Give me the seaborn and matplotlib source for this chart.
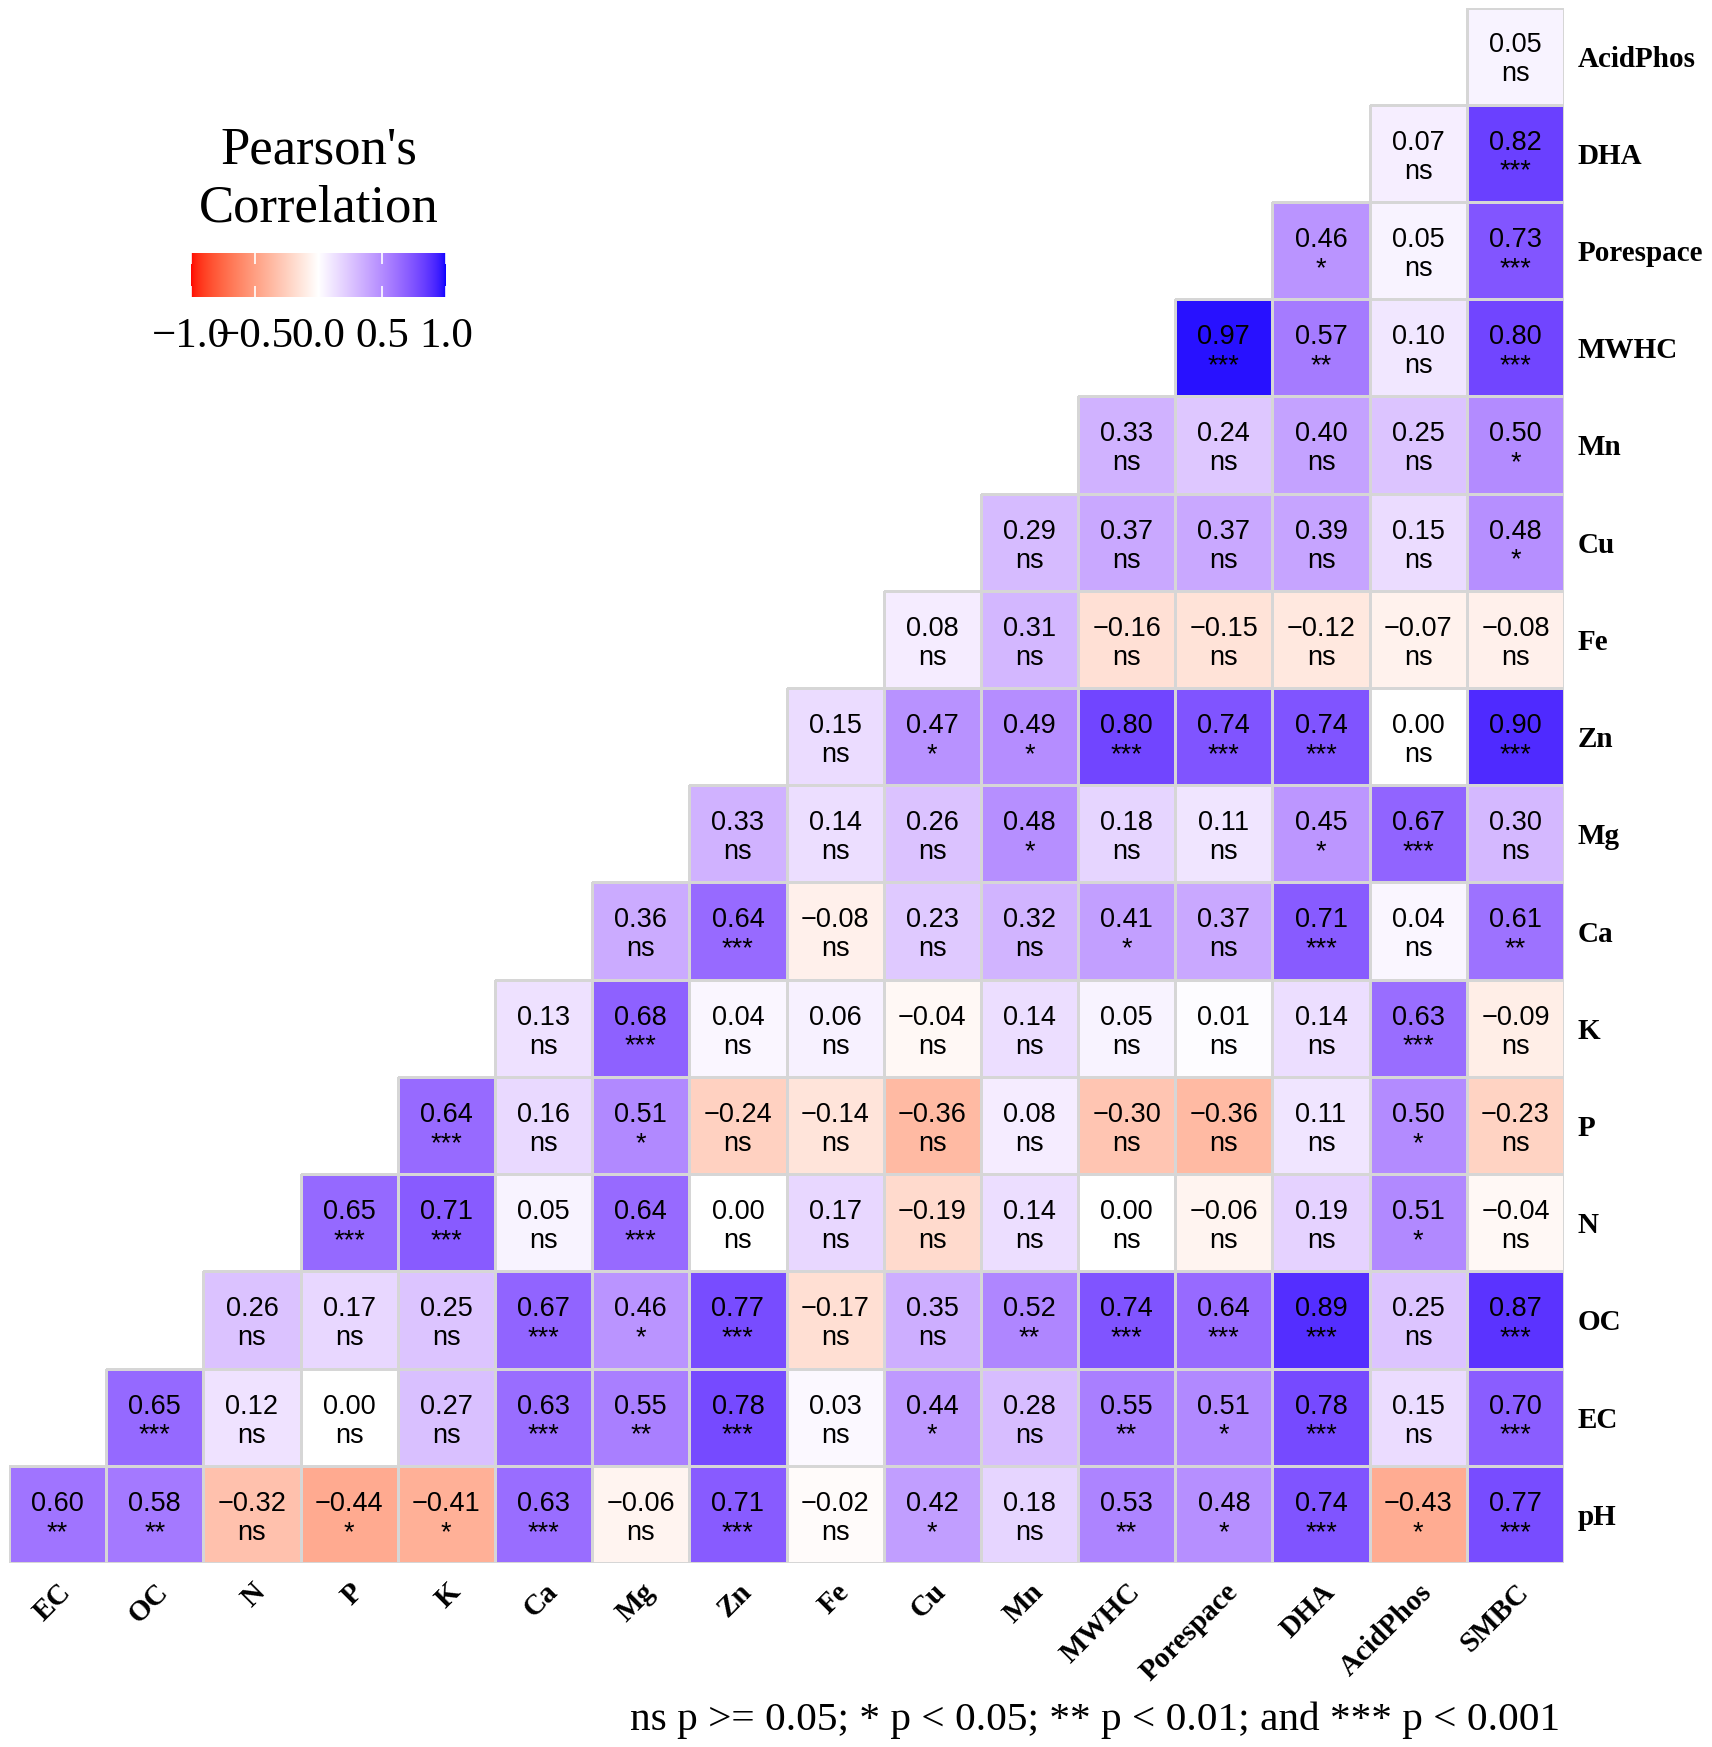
import numpy as np
import pandas as pd
import matplotlib
matplotlib.use("Agg")
import matplotlib.pyplot as plt
from matplotlib.colors import ListedColormap, Normalize, to_rgba
from matplotlib.cm import ScalarMappable
import seaborn as sns

# ---------------- data ----------------
cols = ["EC", "OC", "N", "P", "K", "Ca", "Mg", "Zn", "Fe", "Cu", "Mn",
        "MWHC", "Porespace", "DHA", "AcidPhos", "SMBC"]
rows = ["AcidPhos", "DHA", "Porespace", "MWHC", "Mn", "Cu", "Fe", "Zn",
        "Mg", "Ca", "K", "P", "N", "OC", "EC", "pH"]

# each row lists its cells from left to right (the cells end at SMBC)
r_AcidPhos = [0.05]
s_AcidPhos = ["ns"]
r_DHA = [0.07, 0.82]
s_DHA = ["ns", "***"]
r_Porespace = [0.46, 0.05, 0.73]
s_Porespace = ["*", "ns", "***"]
r_MWHC = [0.97, 0.57, 0.10, 0.80]
s_MWHC = ["***", "**", "ns", "***"]
r_Mn = [0.33, 0.24, 0.40, 0.25, 0.50]
s_Mn = ["ns", "ns", "ns", "ns", "*"]
r_Cu = [0.29, 0.37, 0.37, 0.39, 0.15, 0.48]
s_Cu = ["ns", "ns", "ns", "ns", "ns", "*"]
r_Fe = [0.08, 0.31, -0.16, -0.15, -0.12, -0.07, -0.08]
s_Fe = ["ns", "ns", "ns", "ns", "ns", "ns", "ns"]
r_Zn = [0.15, 0.47, 0.49, 0.80, 0.74, 0.74, 0.00, 0.90]
s_Zn = ["ns", "*", "*", "***", "***", "***", "ns", "***"]
r_Mg = [0.33, 0.14, 0.26, 0.48, 0.18, 0.11, 0.45, 0.67, 0.30]
s_Mg = ["ns", "ns", "ns", "*", "ns", "ns", "*", "***", "ns"]
r_Ca = [0.36, 0.64, -0.08, 0.23, 0.32, 0.41, 0.37, 0.71, 0.04, 0.61]
s_Ca = ["ns", "***", "ns", "ns", "ns", "*", "ns", "***", "ns", "**"]
r_K = [0.13, 0.68, 0.04, 0.06, -0.04, 0.14, 0.05, 0.01, 0.14, 0.63, -0.09]
s_K = ["ns", "***", "ns", "ns", "ns", "ns", "ns", "ns", "ns", "***", "ns"]
r_P = [0.64, 0.16, 0.51, -0.24, -0.14, -0.36, 0.08, -0.30, -0.36, 0.11, 0.50, -0.23]
s_P = ["***", "ns", "*", "ns", "ns", "ns", "ns", "ns", "ns", "ns", "*", "ns"]
r_N = [0.65, 0.71, 0.05, 0.64, 0.00, 0.17, -0.19, 0.14, 0.00, -0.06, 0.19, 0.51, -0.04]
s_N = ["***", "***", "ns", "***", "ns", "ns", "ns", "ns", "ns", "ns", "ns", "*", "ns"]
r_OC = [0.26, 0.17, 0.25, 0.67, 0.46, 0.77, -0.17, 0.35, 0.52, 0.74, 0.64, 0.89, 0.25, 0.87]
s_OC = ["ns", "ns", "ns", "***", "*", "***", "ns", "ns", "**", "***", "***", "***", "ns", "***"]
r_EC = [0.65, 0.12, 0.00, 0.27, 0.63, 0.55, 0.78, 0.03, 0.44, 0.28, 0.55, 0.51, 0.78, 0.15, 0.70]
s_EC = ["***", "ns", "ns", "ns", "***", "**", "***", "ns", "*", "ns", "**", "*", "***", "ns", "***"]
r_pH = [0.60, 0.58, -0.32, -0.44, -0.41, 0.63, -0.06, 0.71, -0.02, 0.42, 0.18, 0.53, 0.48, 0.74, -0.43, 0.77]
s_pH = ["**", "**", "ns", "*", "*", "***", "ns", "***", "ns", "*", "ns", "**", "*", "***", "*", "***"]

row_r = [r_AcidPhos, r_DHA, r_Porespace, r_MWHC, r_Mn, r_Cu, r_Fe, r_Zn,
         r_Mg, r_Ca, r_K, r_P, r_N, r_OC, r_EC, r_pH]
row_s = [s_AcidPhos, s_DHA, s_Porespace, s_MWHC, s_Mn, s_Cu, s_Fe, s_Zn,
         s_Mg, s_Ca, s_K, s_P, s_N, s_OC, s_EC, s_pH]

caption = "ns p >= 0.05; * p < 0.05; ** p < 0.01; and *** p < 0.001"
cbar_ticks = [-1.0, -0.5, 0.0, 0.5, 1.0]

# ---------------- matrix ----------------
n = len(cols)
mat = np.full((len(rows), n), np.nan)
ann = np.full((len(rows), n), "", dtype=object)
for i, (rv, sv) in enumerate(zip(row_r, row_s)):
    start = n - len(rv)
    for k, (v, s) in enumerate(zip(rv, sv)):
        mat[i, start + k] = v
        ann[i, start + k] = f"{v:.2f}".replace("-", "\u2212") + "\n" + s
df = pd.DataFrame(mat, index=rows, columns=cols)

# ---------------- Lab colour gradient (red - white - blue) ----------------
def srgb_to_lab(c):
    c = np.asarray(c, float)
    lin = np.where(c <= 0.04045, c / 12.92, ((c + 0.055) / 1.055) ** 2.4)
    M = np.array([[0.4124, 0.3576, 0.1805],
                  [0.2126, 0.7152, 0.0722],
                  [0.0193, 0.1192, 0.9505]])
    xyz = M @ lin / np.array([0.95047, 1.0, 1.08883])
    f = np.where(xyz > (6 / 29) ** 3, np.cbrt(xyz), xyz / (3 * (6 / 29) ** 2) + 4 / 29)
    return np.array([116 * f[1] - 16, 500 * (f[0] - f[1]), 200 * (f[1] - f[2])])

def lab_to_srgb(lab):
    L, a, b = lab
    fy = (L + 16) / 116
    fx = fy + a / 500
    fz = fy - b / 200
    f = np.array([fx, fy, fz])
    xyz = np.where(f > 6 / 29, f ** 3, 3 * (6 / 29) ** 2 * (f - 4 / 29))
    xyz = xyz * np.array([0.95047, 1.0, 1.08883])
    Minv = np.array([[3.2406, -1.5372, -0.4986],
                     [-0.9689, 1.8758, 0.0415],
                     [0.0557, -0.2040, 1.0570]])
    lin = np.clip(Minv @ xyz, 0, 1)
    c = np.where(lin <= 0.0031308, 12.92 * lin, 1.055 * lin ** (1 / 2.4) - 0.055)
    return np.clip(c, 0, 1)

lab_low = srgb_to_lab([1, 0, 0])
lab_mid = srgb_to_lab([1, 1, 1])
lab_high = srgb_to_lab([0, 0, 1])
colors = []
for t in np.linspace(-1, 1, 511):
    if t < 0:
        lab = lab_mid + (-t) * (lab_low - lab_mid)
    else:
        lab = lab_mid + t * (lab_high - lab_mid)
    colors.append(lab_to_srgb(lab))
cmap = ListedColormap(colors)

# ---------------- figure ----------------
W, H = 1712, 1747
fig = plt.figure(figsize=(W / 100, H / 100), dpi=100)
fig.patch.set_facecolor("white")
ax = fig.add_axes([9 / W, 1 - 1563 / H, 1555 / W, 1555.5 / H])

grid_col = "#D6D6D6"
sns.heatmap(df, mask=df.isna(), cmap=cmap, vmin=-1, vmax=1,
            annot=ann, fmt="",
            annot_kws=dict(fontsize=19.5, family="Liberation Sans", color="black",
                           linespacing=1.15),
            linewidths=1.0, linecolor=grid_col, cbar=False, ax=ax)

# no outlines for the empty (masked) cells
mesh = ax.collections[0]
masked = np.ma.getmaskarray(mesh.get_array()).ravel()
ec = np.tile(np.array(to_rgba(grid_col)), (masked.size, 1))
ec[masked] = (0, 0, 0, 0)
mesh.set_edgecolor(ec)

# nudge the two-line labels slightly downward like the reference
for t in ax.texts:
    x, y = t.get_position()
    t.set_position((x, y + 0.04))

ax.yaxis.tick_right()
ax.set_yticklabels(rows, rotation=0, fontsize=21, fontweight="bold",
                   family="Liberation Serif", ha="left")
ax.set_xticklabels(cols, rotation=45, fontsize=21, fontweight="bold",
                   family="Liberation Serif", ha="right", va="top",
                   rotation_mode="anchor")
ax.tick_params(axis="both", length=0)
ax.tick_params(axis="y", pad=10)
ax.tick_params(axis="x", pad=11)
ax.set_xlabel("")
ax.set_ylabel("")
for sp in ax.spines.values():
    sp.set_visible(False)

# ---------------- colour bar legend ----------------
cax = fig.add_axes([191 / W, 1 - 297 / H, 255 / W, 44 / H])
sm = ScalarMappable(norm=Normalize(-1, 1), cmap=cmap)
cb = fig.colorbar(sm, cax=cax, orientation="horizontal", ticks=cbar_ticks)
cb.outline.set_visible(False)
cb.ax.set_xticklabels([f"{t:.1f}".replace("-", "\u2212") for t in cbar_ticks],
                      fontsize=31, family="Liberation Serif")
cax.tick_params(axis="x", direction="in", top=True, bottom=True, color="white",
                length=8, width=1.2, pad=15)

fig.text(319 / W, 1 - 164 / H, "Pearson's", ha="center", va="baseline",
         fontsize=38, family="Liberation Serif")
fig.text(319 / W, 1 - 222 / H, "Correlation", ha="center", va="baseline",
         fontsize=38, family="Liberation Serif")

fig.text(1560 / W, 1 - 1730 / H, caption, ha="right", va="baseline",
         fontsize=29.7, family="Liberation Serif")

fig.savefig("out.png", dpi=100, facecolor="white")
